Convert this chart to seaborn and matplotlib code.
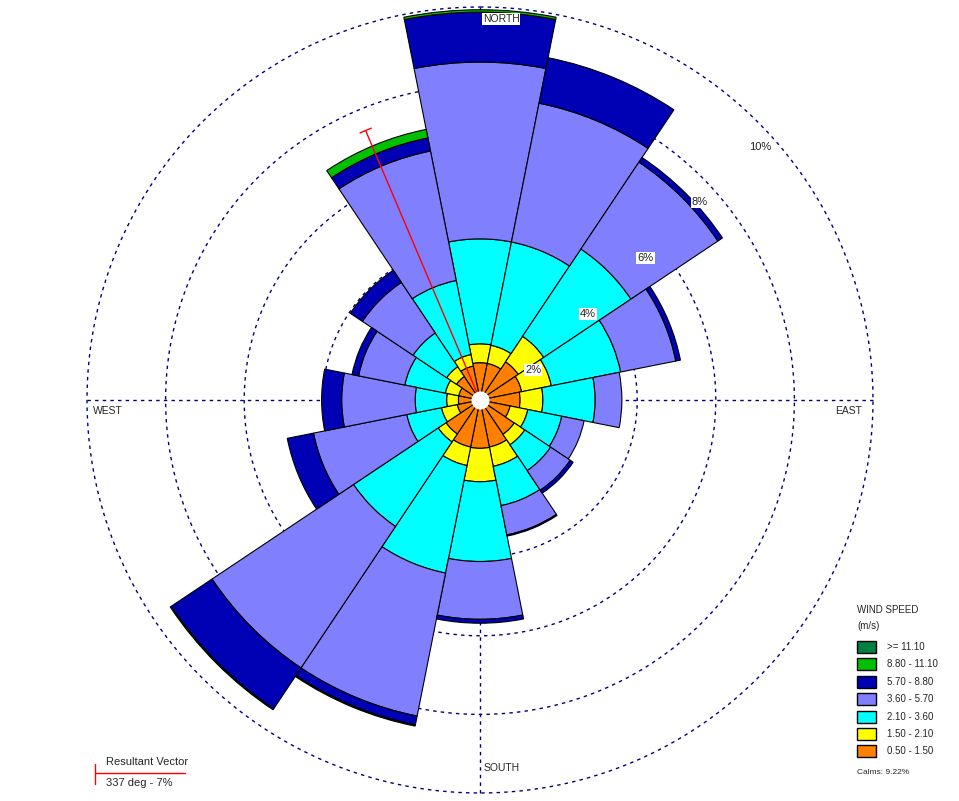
import numpy as np
import matplotlib
matplotlib.use("Agg")
import matplotlib.pyplot as plt
import seaborn as sns
from matplotlib.patches import Rectangle
from matplotlib.lines import Line2D

# ---------------- data ----------------
directions = ["N", "NNE", "NE", "ENE", "E", "ESE", "SE", "SSE",
              "S", "SSW", "SW", "WSW", "W", "WNW", "NW", "NNW"]
bearings = [0, 22.5, 45, 67.5, 90, 112.5, 135, 157.5,
            180, 202.5, 225, 247.5, 270, 292.5, 315, 337.5]

speed_labels = ["0.50 - 1.50", "1.50 - 2.10", "2.10 - 3.60", "3.60 - 5.70",
                "5.70 - 8.80", "8.80 - 11.10", ">= 11.10"]
speed_colors = ["#FF8000", "#FFFF00", "#00FFFF", "#8080FF",
                "#0000B4", "#00C000", "#008040"]

freq_050_150 = [0.95, 0.95, 1.17, 1.08, 1.02, 0.78, 1.05, 1.22,
                1.23, 1.22, 1.04, 0.59, 0.55, 0.55, 0.72, 0.88]
freq_150_210 = [0.48, 0.47, 0.78, 0.77, 0.58, 0.46, 0.32, 0.50,
                0.85, 0.48, 0.24, 0.41, 0.30, 0.35, 0.30, 0.30]
freq_210_360 = [2.67, 2.68, 2.67, 1.80, 1.33, 0.88, 0.79, 1.02,
                2.03, 2.79, 2.59, 0.90, 0.80, 1.05, 1.03, 1.92]
freq_360_570 = [4.50, 3.60, 2.66, 1.43, 0.68, 0.58, 0.60, 0.76,
                1.47, 3.71, 4.33, 2.42, 1.87, 1.20, 1.55, 3.36]
freq_570_880 = [1.27, 1.18, 0.14, 0.12, 0.00, 0.00, 0.09, 0.03,
                0.10, 0.23, 1.25, 0.68, 0.51, 0.17, 0.37, 0.34]
freq_880_1110 = [0.06, 0.00, 0.00, 0.00, 0.00, 0.00, 0.00, 0.00,
                 0.00, 0.03, 0.03, 0.00, 0.00, 0.00, 0.00, 0.22]
freq_ge_1110 = [0.00, 0.00, 0.00, 0.00, 0.00, 0.00, 0.00, 0.00,
                0.00, 0.00, 0.00, 0.00, 0.00, 0.00, 0.00, 0.00]

ring_values = [2, 4, 6, 8, 10]
ring_labels = ["2%", "4%", "6%", "8%", "10%"]
calms_text = "Calms: 9.22%"
resultant_dir = 337
resultant_len = 7.45
resultant_text = "337 deg - 7%"

# ---------------- style ----------------
sns.set_theme(style="white")
plt.rcParams["font.family"] = ["Liberation Sans", "DejaVu Sans"]

W, H = 959, 801
fig = plt.figure(figsize=(W / 100, H / 100), dpi=100)
fig.patch.set_facecolor("white")

cx, cy, R = 480, 400, 393
ax = fig.add_axes([(cx - R) / W, (H - cy - R) / H, 2 * R / W, 2 * R / H],
                  projection="polar")
ax.set_theta_zero_location("N")
ax.set_theta_direction(-1)
ax.set_ylim(0, 10)
ax.set_axis_off()

navy = "#00007F"
dash = (0, (2.5, 3))
tt = np.linspace(0, 2 * np.pi, 721)
for rv in ring_values:
    ax.plot(tt, np.full_like(tt, rv), color=navy, lw=1, ls=dash,
            zorder=1, clip_on=False)
for b in [0, 90, 180, 270]:
    ax.plot([np.deg2rad(b)] * 2, [0, 10], color=navy, lw=1, ls=dash,
            zorder=1, clip_on=False)

theta = np.deg2rad(bearings)
width = 2 * np.pi / 16
series = [freq_050_150, freq_150_210, freq_210_360, freq_360_570,
          freq_570_880, freq_880_1110, freq_ge_1110]
bottom = np.zeros(16)
for vals, col in zip(series, speed_colors):
    v = np.array(vals)
    m = v > 0
    if m.any():
        ax.bar(theta[m], v[m], width=width, bottom=bottom[m], color=col,
               edgecolor="black", linewidth=0.8, align="center", zorder=2)
    bottom = bottom + v

# resultant vector
tr = np.deg2rad(resultant_dir)
ax.plot([tr, tr], [0, resultant_len], color="red", lw=1, zorder=3)
dth = 0.155 / resultant_len
ax.plot([tr - dth, tr + dth], [resultant_len, resultant_len],
        color="red", lw=1, zorder=3)

# calm hole
ax.fill_between(tt, 0, 0.23, color="white", zorder=5, lw=0)

# ring labels
label_pos = [(60.5, 1.55), (51.5, 3.51), (49.3, 5.55), (48.0, 7.53), (47.9, 9.6)]
for (bb, rr), lab in zip(label_pos, ring_labels):
    ax.text(np.deg2rad(bb), rr, lab, ha="center", va="center", fontsize=8,
            color="#202020", zorder=6,
            bbox=dict(boxstyle="square,pad=0.1", fc="white", ec="none"))


def ftext(x, y, s, **kw):
    fig.text(x / W, 1 - y / H, s, **kw)


box = dict(boxstyle="square,pad=0.1", fc="white", ec="none")
ftext(501, 19, "NORTH", ha="center", va="center", fontsize=7.5, bbox=box)
ftext(502, 768, "SOUTH", ha="center", va="center", fontsize=7.5)
ftext(849, 411, "EAST", ha="center", va="center", fontsize=7.5)
ftext(108, 411, "WEST", ha="center", va="center", fontsize=7.5)

# legend
ftext(857, 610, "WIND SPEED", ha="left", va="center", fontsize=7)
ftext(857, 626, "(m/s)", ha="left", va="center", fontsize=7)
y0 = 641
for i, (lab, col) in enumerate(zip(speed_labels[::-1], speed_colors[::-1])):
    yt = y0 + i * 17.4
    fig.add_artist(Rectangle((857 / W, 1 - (yt + 12) / H), 19 / W, 12 / H,
                             transform=fig.transFigure, fc=col, ec="black", lw=1))
    ftext(887, yt + 6, lab, ha="left", va="center", fontsize=7)
ftext(857, 772, calms_text, ha="left", va="center", fontsize=6)

# resultant vector legend
fig.add_artist(Line2D([95 / W, 185 / W], [1 - 773 / H, 1 - 773 / H],
                      transform=fig.transFigure, color="red", lw=1))
fig.add_artist(Line2D([95 / W, 95 / W], [1 - 764 / H, 1 - 784 / H],
                      transform=fig.transFigure, color="red", lw=1))
ftext(106, 762, "Resultant Vector", ha="left", va="center", fontsize=8)
ftext(106, 783, resultant_text, ha="left", va="center", fontsize=8)

fig.savefig("out.png", dpi=100, facecolor="white")
